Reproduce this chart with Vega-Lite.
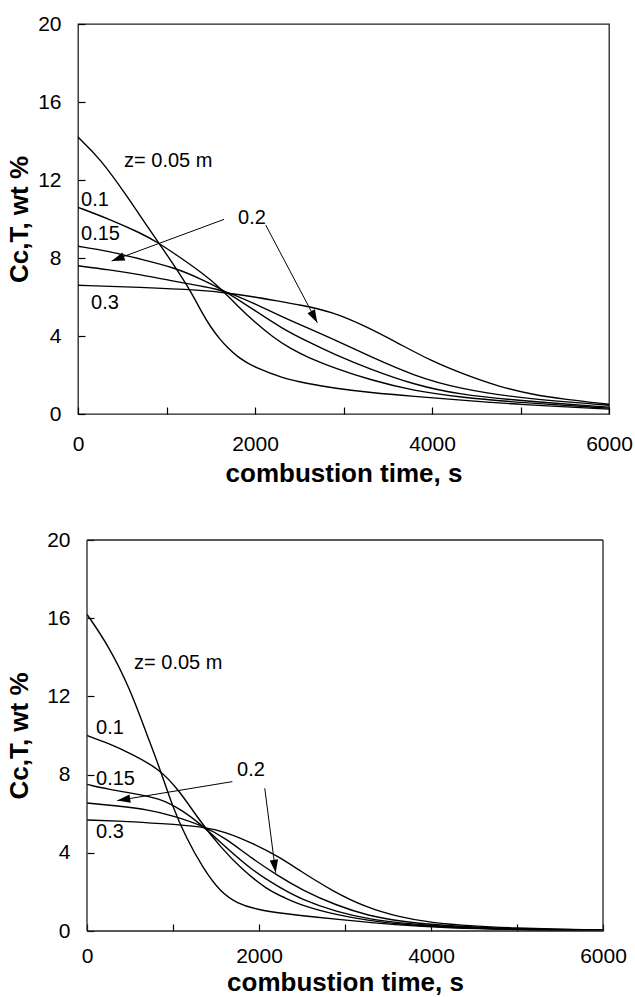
{
  "$schema": "https://vega.github.io/schema/vega-lite/v6.json",
  "padding": {"left": 5, "top": 12, "right": 5, "bottom": 5},
  "background": "white",
  "datasets": {
    "top": [
      {"z":"0.05","t":0,"c":14.2},{"z":"0.05","t":250,"c":13.1},{"z":"0.05","t":550,"c":11.2},{"z":"0.05","t":800,"c":9.5},{"z":"0.05","t":1000,"c":8.2},{"z":"0.05","t":1250,"c":6.5},{"z":"0.05","t":1400,"c":5.2},{"z":"0.05","t":1500,"c":4.45},{"z":"0.05","t":1600,"c":3.85},{"z":"0.05","t":1700,"c":3.35},{"z":"0.05","t":1800,"c":2.95},{"z":"0.05","t":1900,"c":2.65},{"z":"0.05","t":2000,"c":2.4},{"z":"0.05","t":2300,"c":1.85},{"z":"0.05","t":2600,"c":1.55},{"z":"0.05","t":2900,"c":1.32},{"z":"0.05","t":3300,"c":1.1},{"z":"0.05","t":3800,"c":0.9},{"z":"0.05","t":4300,"c":0.72},{"z":"0.05","t":5000,"c":0.48},{"z":"0.05","t":6000,"c":0.25},
      {"z":"0.1","t":0,"c":10.6},{"z":"0.1","t":350,"c":10.0},{"z":"0.1","t":700,"c":9.3},{"z":"0.1","t":900,"c":8.8},{"z":"0.1","t":1100,"c":8.2},{"z":"0.1","t":1400,"c":7.25},{"z":"0.1","t":1600,"c":6.5},{"z":"0.1","t":1800,"c":5.55},{"z":"0.1","t":2000,"c":4.7},{"z":"0.1","t":2200,"c":3.95},{"z":"0.1","t":2400,"c":3.35},{"z":"0.1","t":2600,"c":2.9},{"z":"0.1","t":2900,"c":2.35},{"z":"0.1","t":3300,"c":1.75},{"z":"0.1","t":3800,"c":1.18},{"z":"0.1","t":4300,"c":0.87},{"z":"0.1","t":5000,"c":0.58},{"z":"0.1","t":6000,"c":0.3},
      {"z":"0.15","t":0,"c":8.6},{"z":"0.15","t":350,"c":8.35},{"z":"0.15","t":700,"c":7.95},{"z":"0.15","t":1100,"c":7.5},{"z":"0.15","t":1400,"c":6.9},{"z":"0.15","t":1650,"c":6.35},{"z":"0.15","t":2000,"c":5.3},{"z":"0.15","t":2300,"c":4.4},{"z":"0.15","t":2600,"c":3.7},{"z":"0.15","t":2900,"c":3.05},{"z":"0.15","t":3300,"c":2.3},{"z":"0.15","t":3800,"c":1.5},{"z":"0.15","t":4300,"c":1.0},{"z":"0.15","t":5000,"c":0.68},{"z":"0.15","t":6000,"c":0.35},
      {"z":"0.2","t":0,"c":7.6},{"z":"0.2","t":350,"c":7.4},{"z":"0.2","t":700,"c":7.15},{"z":"0.2","t":1100,"c":6.8},{"z":"0.2","t":1400,"c":6.55},{"z":"0.2","t":1650,"c":6.35},{"z":"0.2","t":2000,"c":5.65},{"z":"0.2","t":2300,"c":5.0},{"z":"0.2","t":2600,"c":4.4},{"z":"0.2","t":2900,"c":3.8},{"z":"0.2","t":3300,"c":2.95},{"z":"0.2","t":3800,"c":1.95},{"z":"0.2","t":4300,"c":1.3},{"z":"0.2","t":5000,"c":0.8},{"z":"0.2","t":6000,"c":0.45},
      {"z":"0.3","t":0,"c":6.6},{"z":"0.3","t":700,"c":6.5},{"z":"0.3","t":1400,"c":6.35},{"z":"0.3","t":1700,"c":6.2},{"z":"0.3","t":2000,"c":6.0},{"z":"0.3","t":2250,"c":5.8},{"z":"0.3","t":2500,"c":5.6},{"z":"0.3","t":2870,"c":5.25},{"z":"0.3","t":3250,"c":4.5},{"z":"0.3","t":3630,"c":3.6},{"z":"0.3","t":4000,"c":2.7},{"z":"0.3","t":4380,"c":2.0},{"z":"0.3","t":4760,"c":1.4},{"z":"0.3","t":5130,"c":1.0},{"z":"0.3","t":5500,"c":0.75},{"z":"0.3","t":6000,"c":0.5}
    ],
    "bottom": [
      {"z":"0.05","t":0,"c":16.2},{"z":"0.05","t":250,"c":14.6},{"z":"0.05","t":500,"c":12.4},{"z":"0.05","t":700,"c":10.0},{"z":"0.05","t":840,"c":8.4},{"z":"0.05","t":1000,"c":6.3},{"z":"0.05","t":1150,"c":4.8},{"z":"0.05","t":1350,"c":3.2},{"z":"0.05","t":1550,"c":2.0},{"z":"0.05","t":1750,"c":1.4},{"z":"0.05","t":2000,"c":1.05},{"z":"0.05","t":2500,"c":0.78},{"z":"0.05","t":2900,"c":0.6},{"z":"0.05","t":3600,"c":0.3},{"z":"0.05","t":4200,"c":0.15},{"z":"0.05","t":5000,"c":0.07},{"z":"0.05","t":6000,"c":0.03},
      {"z":"0.1","t":0,"c":10.0},{"z":"0.1","t":250,"c":9.6},{"z":"0.1","t":500,"c":9.1},{"z":"0.1","t":840,"c":8.3},{"z":"0.1","t":1070,"c":7.2},{"z":"0.1","t":1300,"c":5.7},{"z":"0.1","t":1550,"c":4.3},{"z":"0.1","t":1800,"c":3.15},{"z":"0.1","t":2100,"c":2.1},{"z":"0.1","t":2300,"c":1.7},{"z":"0.1","t":2500,"c":1.3},{"z":"0.1","t":2900,"c":0.82},{"z":"0.1","t":3300,"c":0.52},{"z":"0.1","t":3600,"c":0.36},{"z":"0.1","t":4200,"c":0.18},{"z":"0.1","t":5000,"c":0.08},{"z":"0.1","t":6000,"c":0.03},
      {"z":"0.15","t":0,"c":7.5},{"z":"0.15","t":250,"c":7.25},{"z":"0.15","t":520,"c":7.05},{"z":"0.15","t":840,"c":6.8},{"z":"0.15","t":1100,"c":6.2},{"z":"0.15","t":1340,"c":5.4},{"z":"0.15","t":1610,"c":4.3},{"z":"0.15","t":1920,"c":3.1},{"z":"0.15","t":2230,"c":2.25},{"z":"0.15","t":2500,"c":1.6},{"z":"0.15","t":2900,"c":0.98},{"z":"0.15","t":3300,"c":0.6},{"z":"0.15","t":3600,"c":0.42},{"z":"0.15","t":4200,"c":0.2},{"z":"0.15","t":5000,"c":0.08},{"z":"0.15","t":6000,"c":0.03},
      {"z":"0.2","t":0,"c":6.55},{"z":"0.2","t":350,"c":6.4},{"z":"0.2","t":720,"c":6.2},{"z":"0.2","t":1000,"c":5.9},{"z":"0.2","t":1340,"c":5.4},{"z":"0.2","t":1610,"c":4.75},{"z":"0.2","t":1920,"c":3.7},{"z":"0.2","t":2230,"c":2.8},{"z":"0.2","t":2500,"c":2.1},{"z":"0.2","t":2900,"c":1.3},{"z":"0.2","t":3300,"c":0.75},{"z":"0.2","t":3600,"c":0.52},{"z":"0.2","t":4200,"c":0.25},{"z":"0.2","t":5000,"c":0.1},{"z":"0.2","t":6000,"c":0.04},
      {"z":"0.3","t":0,"c":5.68},{"z":"0.3","t":500,"c":5.6},{"z":"0.3","t":840,"c":5.5},{"z":"0.3","t":1340,"c":5.35},{"z":"0.3","t":1610,"c":5.07},{"z":"0.3","t":1920,"c":4.5},{"z":"0.3","t":2230,"c":3.8},{"z":"0.3","t":2470,"c":3.1},{"z":"0.3","t":2850,"c":2.05},{"z":"0.3","t":3250,"c":1.2},{"z":"0.3","t":3630,"c":0.72},{"z":"0.3","t":4000,"c":0.42},{"z":"0.3","t":4500,"c":0.25},{"z":"0.3","t":5000,"c":0.15},{"z":"0.3","t":5500,"c":0.08},{"z":"0.3","t":6000,"c":0.05}
    ],
    "topLabels": [
      {"t":520,"c":13.0,"txt":"z= 0.05 m"},{"t":34,"c":11.0,"txt":"0.1"},{"t":34,"c":9.25,"txt":"0.15"},{"t":147,"c":5.7,"txt":"0.3"},{"t":1808,"c":10.05,"txt":"0.2"}
    ],
    "bottomLabels": [
      {"t":547,"c":13.7,"txt":"z= 0.05 m"},{"t":105,"c":10.4,"txt":"0.1"},{"t":105,"c":7.8,"txt":"0.15"},{"t":105,"c":5.07,"txt":"0.3"},{"t":1745,"c":8.23,"txt":"0.2"}
    ],
    "topArrows": [
      {"id":"a","t1":1650,"c1":9.98,"t2":380,"c2":7.85},{"id":"b","t1":2121,"c1":9.69,"t2":2704,"c2":4.68}
    ],
    "bottomArrows": [
      {"id":"a","t1":1690,"c1":7.64,"t2":352,"c2":6.67},{"id":"b","t1":2067,"c1":7.3,"t2":2194,"c2":2.98}
    ],
    "frame": [
      {"t1":0,"t2":0,"c1":0,"c2":20},{"t1":6000,"t2":6000,"c1":0,"c2":20},{"t1":0,"t2":6000,"c1":0,"c2":0},{"t1":0,"t2":6000,"c1":20,"c2":20}
    ]
  },
  "columns": 1,
  "align": "none",
  "spacing": 42,
  "concat": [
    {
      "width": 531,
      "height": 390,
      "layer": [
        {
          "data": {"name": "top"},
          "mark": {"type": "line", "interpolate": "basis", "color": "black", "strokeWidth": 1.4},
          "encoding": {
            "x": {"field": "t", "type": "quantitative", "scale": {"domain": [0, 6000], "nice": false},
                  "axis": {"title": "combustion time, s", "values": [0,1000,2000,3000,4000,5000,6000], "format": "d",
                           "labelExpr": "datum.value % 2000 === 0 ? datum.label : ''", "labelPadding": 26, "titlePadding": 6}},
            "y": {"field": "c", "type": "quantitative", "scale": {"domain": [0, 20], "nice": false},
                  "axis": {"title": "Cc,T, wt %", "values": [0,2,4,6,8,10,12,14,16,18,20], "format": "d",
                           "labelExpr": "datum.value % 4 === 0 ? datum.label : ''", "labelPadding": 24, "titlePadding": 5}},
            "detail": {"field": "z", "type": "nominal"}
          }
        },
        {
          "data": {"name": "topArrows"},
          "mark": {"type": "rule", "color": "black", "strokeWidth": 1},
          "encoding": {
            "x": {"field": "t1", "type": "quantitative"},
            "y": {"field": "c1", "type": "quantitative"},
            "x2": {"field": "t2"},
            "y2": {"field": "c2"}
          }
        },
        {
          "data": {"name": "topArrows"},
          "transform": [{"filter": "datum.id === 'a'"}],
          "mark": {"type": "point", "shape": "M0,0L-0.65,2L0.65,2Z", "filled": true, "color": "black", "opacity": 1, "size": 169, "angle": 250},
          "encoding": {
            "x": {"field": "t2", "type": "quantitative"},
            "y": {"field": "c2", "type": "quantitative"}
          }
        },
        {
          "data": {"name": "topArrows"},
          "transform": [{"filter": "datum.id === 'b'"}],
          "mark": {"type": "point", "shape": "M0,0L-0.65,2L0.65,2Z", "filled": true, "color": "black", "opacity": 1, "size": 169, "angle": 152},
          "encoding": {
            "x": {"field": "t2", "type": "quantitative"},
            "y": {"field": "c2", "type": "quantitative"}
          }
        },
        {
          "data": {"name": "topLabels"},
          "mark": {"type": "text", "align": "left", "baseline": "middle", "fontSize": 20, "font": "Liberation Sans", "color": "black"},
          "encoding": {
            "x": {"field": "t", "type": "quantitative"},
            "y": {"field": "c", "type": "quantitative"},
            "text": {"field": "txt"}
          }
        }
      ]
    },
    {
      "width": 525,
      "height": 391,
      "view": {"stroke": null},
      "layer": [
        {
          "data": {"name": "bottom"},
          "mark": {"type": "line", "interpolate": "basis", "color": "black", "strokeWidth": 1.4},
          "encoding": {
            "x": {"field": "t", "type": "quantitative", "scale": {"domain": [0, 6000], "nice": false, "range": [9, 525]},
                  "axis": {"title": "combustion time, s", "values": [0,1000,2000,3000,4000,5000,6000], "format": "d",
                           "labelExpr": "datum.value % 2000 === 0 ? datum.label : ''", "labelPadding": 21, "titlePadding": 3}},
            "y": {"field": "c", "type": "quantitative", "scale": {"domain": [0, 20], "nice": false},
                  "axis": {"title": "Cc,T, wt %", "values": [0,2,4,6,8,10,12,14,16,18,20], "format": "d", "offset": -9,
                           "labelExpr": "datum.value % 4 === 0 ? datum.label : ''", "labelPadding": 24, "titlePadding": 14}},
            "detail": {"field": "z", "type": "nominal"}
          }
        },
        {
          "data": {"name": "frame"},
          "mark": {"type": "rule", "color": "#222", "strokeWidth": 1.3},
          "encoding": {
            "x": {"field": "t1", "type": "quantitative"},
            "y": {"field": "c1", "type": "quantitative"},
            "x2": {"field": "t2"},
            "y2": {"field": "c2"}
          }
        },
        {
          "data": {"name": "bottomArrows"},
          "mark": {"type": "rule", "color": "black", "strokeWidth": 1},
          "encoding": {
            "x": {"field": "t1", "type": "quantitative"},
            "y": {"field": "c1", "type": "quantitative"},
            "x2": {"field": "t2"},
            "y2": {"field": "c2"}
          }
        },
        {
          "data": {"name": "bottomArrows"},
          "transform": [{"filter": "datum.id === 'a'"}],
          "mark": {"type": "point", "shape": "M0,0L-0.65,2L0.65,2Z", "filled": true, "color": "black", "opacity": 1, "size": 169, "angle": 261},
          "encoding": {
            "x": {"field": "t2", "type": "quantitative"},
            "y": {"field": "c2", "type": "quantitative"}
          }
        },
        {
          "data": {"name": "bottomArrows"},
          "transform": [{"filter": "datum.id === 'b'"}],
          "mark": {"type": "point", "shape": "M0,0L-0.65,2L0.65,2Z", "filled": true, "color": "black", "opacity": 1, "size": 169, "angle": 172},
          "encoding": {
            "x": {"field": "t2", "type": "quantitative"},
            "y": {"field": "c2", "type": "quantitative"}
          }
        },
        {
          "data": {"name": "bottomLabels"},
          "mark": {"type": "text", "align": "left", "baseline": "middle", "fontSize": 20, "font": "Liberation Sans", "color": "black"},
          "encoding": {
            "x": {"field": "t", "type": "quantitative"},
            "y": {"field": "c", "type": "quantitative"},
            "text": {"field": "txt"}
          }
        }
      ]
    }
  ],
  "config": {
    "view": {"stroke": "#222", "strokeWidth": 1.3},
    "font": "Liberation Sans",
    "axis": {
      "grid": false, "domain": false, "ticks": true, "tickColor": "black", "tickSize": -7, "tickWidth": 1.2,
      "labelFontSize": 21, "labelColor": "black", "labelFont": "Liberation Sans", "labelOverlap": false, "labelFlush": false,
      "titleFontSize": 26, "titleFontWeight": "bold", "titleColor": "black", "titleFont": "Liberation Sans"
    }
  }
}
